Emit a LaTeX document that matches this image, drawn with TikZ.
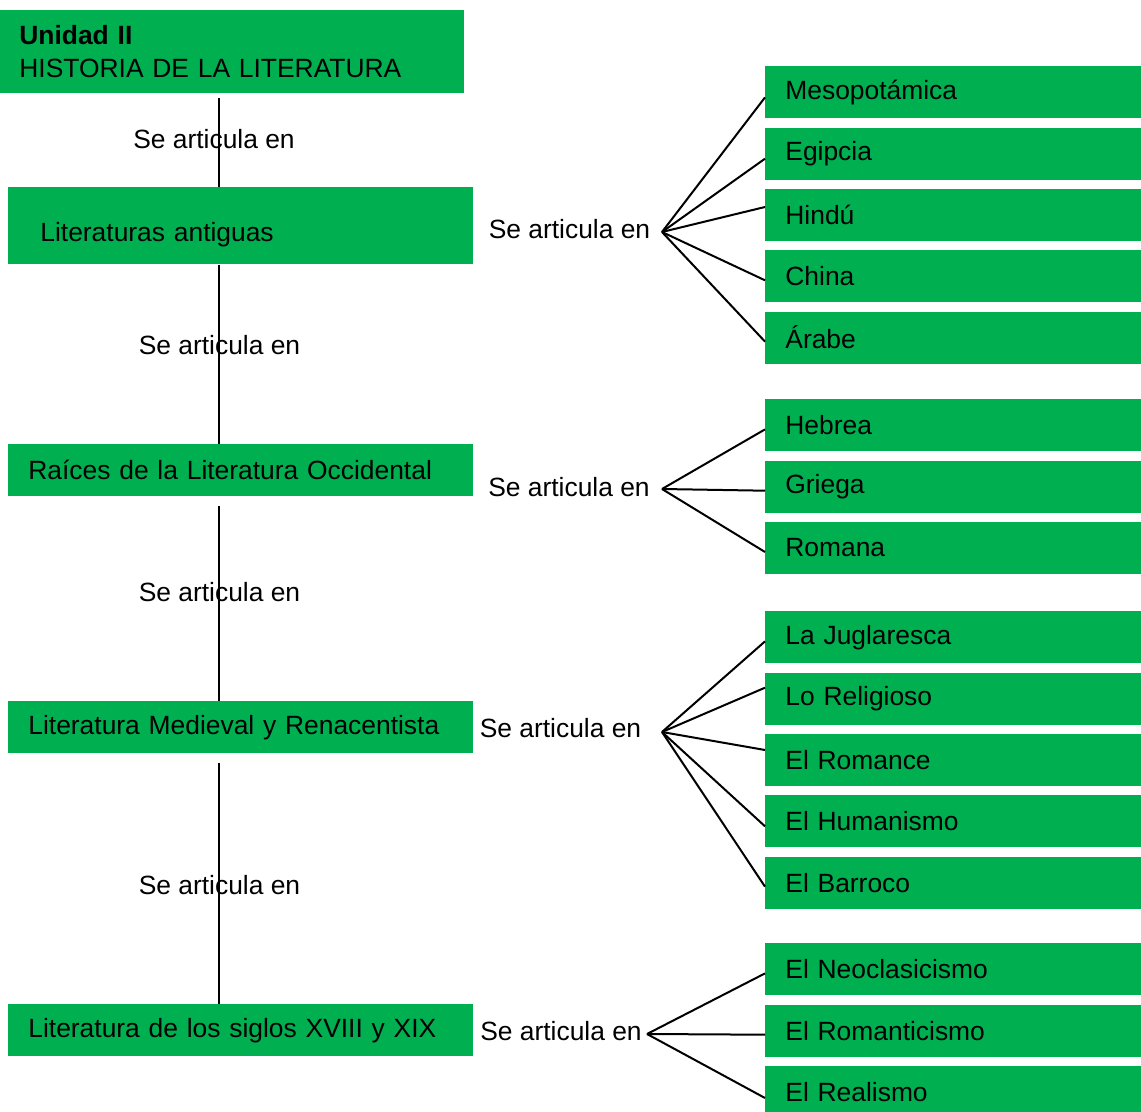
\documentclass[tikz,border=0pt]{standalone}
\usepackage{fontspec}
\setmainfont{Liberation Sans}
\usetikzlibrary{positioning}
\definecolor{verde}{RGB}{0,176,80}

\begin{document}
\begin{tikzpicture}[
        x=0.5pt, y=-0.5pt,
        node distance=4.25pt,
        every node/.style={font=\fontsize{13.2}{16.5}\selectfont},
        unidad/.style={fill=verde, anchor=north west, align=left, text width=213pt, inner xsep=9.5pt, minimum height=41.5pt},
        periodo/.style={fill=verde, anchor=north west, align=left, text width=212.5pt, inner xsep=10pt, minimum height=26pt},
        tema/.style={fill=verde, align=left, text width=168pt, inner xsep=10pt, minimum height=26pt},
        texto/.style={inner sep=0pt},
        linea/.style={draw, line width=1pt}
    ]
    \useasboundingbox (0,0) rectangle (1141,1112);

    % Top box
    \node[unidad] (titulo) at (0,10) {\textbf{Unidad II}\\HISTORIA DE LA LITERATURA};

    % Boxes in the left column
    \node[periodo, text width=200.5pt, inner xsep=16pt, minimum height=38.5pt, text height=18.6pt] (antiguas) at (8,187) {Literaturas antiguas};
    \node[periodo] (raices) at (8,444) {Raíces de la Literatura Occidental};
    \node[periodo] (medieval) at (8,701) {Literatura Medieval y Renacentista};
    \node[periodo] (siglos) at (8,1004) {Literatura de los siglos XVIII y XIX};

    % Labels on the vertical line
    \coordinate (eje) at (219,0);
    \node[texto] (art1) at (214,139) {Se articula en};
    \node[texto] (art2) at (219.5,345) {Se articula en};
    \node[texto] (art3) at (219.5,592) {Se articula en};
    \node[texto] (art4) at (219.5,885) {Se articula en};

    % Vertical line between the left boxes
    \draw[linea, shorten <=2pt] (titulo.south -| eje) -- (antiguas.north -| eje);
    \draw[linea] (antiguas.south -| eje) -- (raices.north -| eje);
    \draw[linea, shorten <=4.5pt] (raices.south -| eje) -- (medieval.north -| eje);
    \draw[linea, shorten <=4.5pt] (medieval.south -| eje) -- (siglos.north -| eje);

    % Boxes on the right
    \node[tema, anchor=north west] (meso) at (765,66) {Mesopotámica};
    \node[tema] (egipcia) [below=of meso] {Egipcia};
    \node[tema] (hindu) [below=of egipcia] {Hindú};
    \node[tema] (china) [below=of hindu] {China};
    \node[tema] (arabe) [below=of china] {Árabe};

    \node[tema, anchor=north west] (hebrea) at (765,399) {Hebrea};
    \node[tema] (griega) [below=of hebrea] {Griega};
    \node[tema] (romana) [below=of griega] {Romana};

    \node[tema, anchor=north west] (juglaresca) at (765,611) {La Juglaresca};
    \node[tema] (religioso) [below=of juglaresca] {Lo Religioso};
    \node[tema] (romance) [below=of religioso] {El Romance};
    \node[tema] (humanismo) [below=of romance] {El Humanismo};
    \node[tema] (barroco) [below=of humanismo] {El Barroco};

    \node[tema, anchor=north west] (neoclasicismo) at (765,943) {El Neoclasicismo};
    \node[tema] (romanticismo) [below=of neoclasicismo] {El Romanticismo};
    \node[tema] (realismo) [below=of romanticismo] {El Realismo};

    % Fan labels and their points
    \node[texto] (sa1) at (569.5,229) {Se articula en};
    \node[texto] (sa2) at (569,487) {Se articula en};
    \node[texto] (sa3) at (560.5,728) {Se articula en};
    \node[texto] (sa4) at (561,1031) {Se articula en};
    \coordinate (fan1) at (662,232);
    \coordinate (fan2) at (662,489);
    \coordinate (fan3) at (662,732);
    \coordinate (fan4) at (647,1034);

    % Edges from the fans
    \draw[linea] (fan1) -- ([yshift=-2.5pt]meso.west);
    \draw[linea] (fan1) -- ([yshift=-2.5pt]egipcia.west);
    \draw[linea] (fan1) -- ([yshift=4pt]hindu.west);
    \draw[linea] (fan1) -- ([yshift=-2pt]china.west);
    \draw[linea] (fan1) -- ([yshift=-2pt]arabe.west);

    \draw[linea] (fan2) -- ([yshift=-2pt]hebrea.west);
    \draw[linea] (fan2) -- ([yshift=-2pt]griega.west);
    \draw[linea] (fan2) -- ([yshift=-2pt]romana.west);

    \draw[linea] (fan3) -- ([yshift=-2pt]juglaresca.west);
    \draw[linea] (fan3) -- ([yshift=5.5pt]religioso.west);
    \draw[linea] (fan3) -- ([yshift=5pt]romance.west);
    \draw[linea] (fan3) -- ([yshift=-2.5pt]humanismo.west);
    \draw[linea] (fan3) -- ([yshift=-2pt]barroco.west);

    \draw[linea] (fan4) -- ([yshift=-2pt]neoclasicismo.west);
    \draw[linea] (fan4) -- ([yshift=-2pt]romanticismo.west);
    \draw[linea] (fan4) -- ([yshift=-3pt]realismo.west);

\end{tikzpicture}
\end{document}
